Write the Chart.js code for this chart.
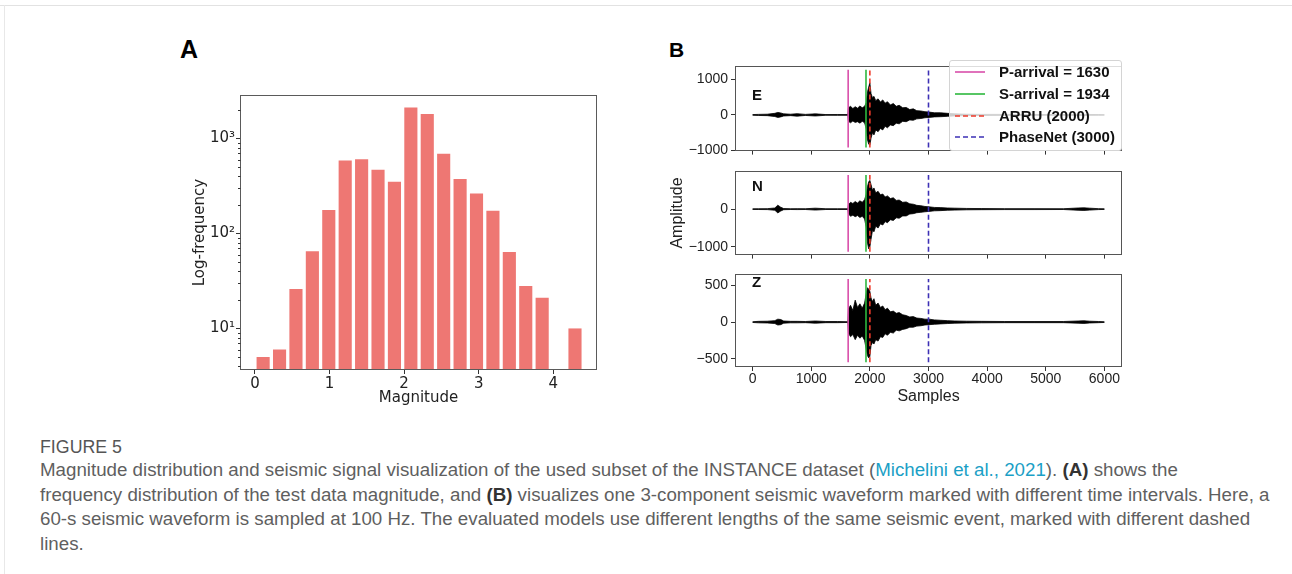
<!DOCTYPE html>
<html><head><meta charset="utf-8">
<script src="https://cdn.jsdelivr.net/npm/chart.js@4/dist/chart.umd.min.js"></script>
<style>
body{margin:0;background:#fff;}
#page{position:relative;width:1292px;height:574px;overflow:hidden;background:#fff;font-family:'Liberation Sans',Arial,sans-serif;}
.abs{position:absolute;}
canvas{display:block;}
.lg{position:absolute;left:999px;height:18px;line-height:18px;font:bold 15px 'Liberation Sans',Arial,sans-serif;color:#111;white-space:nowrap;}
.lgs{position:absolute;left:954px;width:32px;height:4px;}
#cap{position:absolute;left:40px;top:436px;color:#5f5f5f;font-family:'Liberation Sans',Arial,sans-serif;font-size:17px;}
#cap .ln{white-space:nowrap;line-height:24.7px;}
#cap .ln span.t{display:inline-block;}
#cap a{color:#1b9fc6;text-decoration:none;}
#cap b{color:#333;}
</style></head><body><div id="page">
<div class="abs" style="left:0;top:5px;width:1292px;height:1px;background:#e2e2e2"></div>
<div class="abs" style="left:4px;top:5px;width:1px;height:569px;background:#e8e8e8"></div>

<div class="abs" style="left:180px;top:35px;font:bold 25px 'Liberation Sans',Arial,sans-serif;color:#000">A</div>
<div class="abs" style="left:669px;top:38px;font:bold 21px 'Liberation Sans',Arial,sans-serif;color:#000">B</div>

<div class="abs" style="left:185px;top:85px;width:420px;height:325px"><canvas id="cA" width="420" height="325"></canvas></div>
<div class="abs" style="left:660px;top:55px;width:470px;height:107px"><canvas id="cE" width="470" height="107"></canvas></div>
<div class="abs" style="left:660px;top:160px;width:470px;height:106px"><canvas id="cN" width="470" height="106"></canvas></div>
<div class="abs" style="left:660px;top:263px;width:470px;height:147px"><canvas id="cZ" width="470" height="147"></canvas></div>

<div class="abs" style="left:752px;top:86px;font:bold 15px 'Liberation Sans',Arial,sans-serif;color:#111">E</div>
<div class="abs" style="left:752px;top:177px;font:bold 15px 'Liberation Sans',Arial,sans-serif;color:#111">N</div>
<div class="abs" style="left:752px;top:273px;font:bold 15px 'Liberation Sans',Arial,sans-serif;color:#111">Z</div>

<div class="abs" style="left:949px;top:60px;width:171px;height:89px;background:rgba(255,255,255,0.8);border:1px solid #d4d4d4;border-radius:3px;"></div>
<div id="legend"></div>

<div id="cap">
<div class="ln" style="line-height:22px;margin-bottom:0px"><span class="t" style="font-size:0.95em;color:#555">FIGURE 5</span></div>
<div class="ln"><span class="t">Magnitude distribution and seismic signal visualization of the used subset of the INSTANCE dataset (<a>Michelini et al., 2021</a>). <b>(A)</b> shows the</span></div>
<div class="ln"><span class="t" id="refLine">frequency distribution of the test data magnitude, and <b>(B)</b> visualizes one 3-component seismic waveform marked with different time intervals. Here, a</span></div>
<div class="ln"><span class="t">60-s seismic waveform is sampled at 100 Hz. The evaluated models use different lengths of the same seismic event, marked with different dashed</span></div>
<div class="ln"><span class="t">lines.</span></div>
</div>
</div>
<script>
// ---------- Panel A data ----------
const magBinCenters = [0.11,0.33,0.55,0.77,0.99,1.21,1.43,1.65,1.87,2.09,2.31,2.53,2.75,2.97,3.19,3.41,3.63,3.85,4.07,4.29];
const magCounts = [5,6,26,65,177,586,604,468,351,2120,1807,692,374,263,174,64,28,21,null,10];
const magTicks = [0,1,2,3,4];
const logMajorTicks = [10,100,1000];
const logTickLabels = ['10\u00B9','10\u00B2','10\u00B3'];

// ---------- Panel B data ----------
const sampleTicks = [0,1000,2000,3000,4000,5000,6000];
const waveSamples = [0,100,250,380,430,480,530,650,760,900,
  1070,1250,1450,1625,1635,1670,1710,1750,1790,1830,
  1870,1910,1940,1960,1980,2000,2020,2045,2070,2100,
  2140,2180,2220,2260,2300,2350,2400,2450,2500,2560,
  2620,2680,2740,2800,2870,2940,3010,3100,3200,3320,
  3450,3650,3900,4300,4800,5300,5550,5650,5750,5900,
  6000];
const eUpper = [10,15,20,45,70,55,30,20,35,15,
  30,10,12,10,200,240,180,230,190,250,
  200,240,350,650,780,900,600,480,520,400,
  450,360,420,330,370,280,320,240,270,200,
  210,150,170,120,110,90,80,60,60,45,
  30,20,15,15,12,12,15,15,12,10,
  8];
const eLower = [-10,-15,-20,-45,-70,-55,-30,-20,-35,-15,
  -30,-10,-12,-10,-180,-220,-170,-210,-190,-230,
  -180,-220,-400,-700,-820,-850,-650,-500,-560,-420,
  -470,-380,-420,-320,-360,-280,-300,-230,-250,-180,
  -190,-140,-150,-110,-100,-80,-70,-55,-50,-40,
  -28,-18,-15,-12,-12,-10,-15,-15,-12,-10,
  -8];
const nUpper = [8,10,12,30,105,50,15,10,12,10,
  25,10,10,8,120,180,150,200,160,220,
  180,250,400,600,720,760,650,500,560,430,
  470,380,400,320,350,280,300,230,240,180,
  190,140,130,100,90,70,60,45,40,30,
  25,18,15,12,12,10,30,35,25,12,
  8];
const nLower = [-8,-10,-12,-30,-100,-50,-15,-10,-12,-10,
  -25,-10,-10,-8,-120,-190,-160,-200,-170,-220,
  -190,-260,-500,-900,-1050,-1000,-800,-560,-600,-450,
  -500,-390,-420,-330,-360,-280,-300,-230,-240,-180,
  -180,-130,-120,-95,-85,-70,-60,-45,-40,-30,
  -25,-18,-15,-12,-12,-10,-30,-35,-25,-12,
  -8];
const zUpper = [5,10,12,20,40,35,15,10,10,8,
  15,8,8,5,180,230,160,300,200,250,
  190,260,400,470,450,420,330,280,320,230,
  260,200,220,170,190,140,150,120,130,100,
  90,70,75,55,50,40,40,30,25,20,
  15,12,10,8,8,8,15,18,12,8,
  5];
const zLower = [-5,-10,-12,-20,-40,-35,-15,-10,-10,-8,
  -15,-8,-8,-5,-150,-200,-170,-240,-180,-220,
  -190,-250,-380,-460,-490,-470,-320,-280,-300,-240,
  -260,-200,-210,-160,-180,-140,-150,-110,-120,-100,
  -90,-70,-70,-55,-50,-40,-35,-30,-25,-20,
  -15,-12,-10,-8,-8,-8,-15,-18,-12,-8,
  -5];
const ampTicksE = [-1000,0,1000];
const ampTicksN = [-1000,0];
const ampTicksZ = [-500,0,500];
const pickNames = ['P-arrival = 1630','S-arrival = 1934','ARRU (2000)','PhaseNet (3000)'];
const pickSamples = [1630,1934,2000,3000];
const pickSpanE = [-910,1265];
const pickSpanN = [-1125,900];
const pickSpanZ = [-550,590];

// ---------- styles ----------
const pickColors = ['#D94FAA','#2DB83D','#EE3A2A','#3D30B5'];
const pickDash = [[],[],[5,3],[5,3]];

const framePlugin = {
  id:'frame',
  afterDatasetsDraw(chart, args, opts){
    const {ctx, chartArea:a} = chart;
    ctx.save();
    ctx.strokeStyle = opts.color || '#555';
    ctx.lineWidth = 1;
    const l = Math.round(a.left)+0.5, t = Math.round(a.top)+0.5;
    const r = Math.round(a.right)-0.5, b = Math.round(a.bottom)-0.5;
    ctx.strokeRect(l, t, r-l, b-t);
    if (opts.minor){
      const y = chart.scales.y;
      ctx.strokeStyle = '#333';
      const minors = [];
      for (let d=1; d<=1000; d*=10) for (let m=2; m<=9; m++) minors.push(m*d);
      minors.forEach(v=>{
        if (v < y.min || v > y.max) return;
        const py = Math.round(y.getPixelForValue(v))+0.5;
        ctx.beginPath(); ctx.moveTo(l, py); ctx.lineTo(l-2.5, py); ctx.stroke();
      });
    }
    ctx.restore();
  }
};

// ---------- Panel A ----------
new Chart(document.getElementById('cA'), {
  type:'bar',
  data:{datasets:[{
    data: magBinCenters.map((x,i)=>({x:x, y:magCounts[i]})),
    backgroundColor:'#EE7773', borderWidth:0,
    barPercentage:0.8, categoryPercentage:1.0
  }]},
  options:{
    responsive:false, animation:false, events:[],
    layout:{padding:{top:7,right:8,left:0,bottom:0}},
    plugins:{legend:{display:false}, tooltip:{enabled:false}, frame:{color:'#5a5a5a', minor:true}},
    scales:{
      x:{type:'linear', min:-0.2, max:4.585, offset:false,
        afterBuildTicks:s=>{s.ticks = magTicks.map(v=>({value:v}));},
        afterFit:s=>{s.height = 40;},
        grid:{display:true, offset:false, drawOnChartArea:false, drawTicks:true, tickLength:4, color:'#333'},
        border:{display:false},
        ticks:{font:{family:'DejaVu Sans', size:15}, color:'#222', padding:1, maxRotation:0, autoSkip:false, callback:v=>String(v)},
        title:{display:true, text:'Magnitude', font:{family:'DejaVu Sans', size:15}, color:'#222', padding:{top:0,bottom:3}}
      },
      y:{type:'logarithmic', min:3.65, max:2873,
        afterBuildTicks:s=>{s.ticks = logMajorTicks.map(v=>({value:v}));},
        afterFit:s=>{s.width = 55;},
        grid:{display:true, drawOnChartArea:false, drawTicks:true, tickLength:4, color:'#333'},
        border:{display:false},
        ticks:{font:{family:'DejaVu Sans', size:15}, color:'#222', padding:1, autoSkip:false,
          callback:v=>{const k = logMajorTicks.indexOf(v); return k>=0 ? logTickLabels[k] : '';}},
        title:{display:true, text:'Log-frequency', font:{family:'DejaVu Sans', size:15}, color:'#222', padding:{top:6,bottom:0}}
      }
    }
  },
  plugins:[framePlugin]
});

// ---------- Panel B ----------
function waveChart(id, upper, lower, yMin, yMax, yTicks, span, opts){
  const markers = pickSamples.map((p,k)=>({
    data:[{x:p,y:span[0]},{x:p,y:span[1]}],
    borderColor:pickColors[k], borderWidth:1.6, borderDash:pickDash[k],
    pointRadius:0, fill:false, order:0, tension:0
  }));
  const wave = [
    {data:waveSamples.map((s,i)=>({x:s,y:upper[i]})), borderColor:'#000', borderWidth:0.8,
     backgroundColor:'#000', fill:'+1', pointRadius:0, order:1, tension:0},
    {data:waveSamples.map((s,i)=>({x:s,y:lower[i]})), borderColor:'#000', borderWidth:0.8,
     fill:false, pointRadius:0, order:1, tension:0}
  ];
  return new Chart(document.getElementById(id), {
    type:'line',
    data:{datasets: markers.concat(wave)},
    options:{
      responsive:false, animation:false, events:[],
      layout:{padding:{top:4,right:8,left:0,bottom:0}},
      plugins:{legend:{display:false}, tooltip:{enabled:false}, frame:{color:'#555'}},
      scales:{
        x:{type:'linear', min:-300, max:6300,
          afterBuildTicks:s=>{s.ticks = sampleTicks.map(v=>({value:v}));},
          afterFit:s=>{s.height = opts.xh;},
          grid:{display:true, drawOnChartArea:false, drawTicks:true, tickLength:4, color:'#333'},
          border:{display:false},
          ticks:{display:opts.xlabels, font:{family:'Liberation Sans', size:14}, color:'#222', padding:0, maxRotation:0, autoSkip:false, callback:v=>String(v)},
          title:{display:!!opts.xtitle, text:opts.xtitle||'', font:{family:'Liberation Sans', size:16}, color:'#222', padding:{top:0,bottom:4}}
        },
        y:{type:'linear', min:yMin, max:yMax,
          afterBuildTicks:s=>{s.ticks = yTicks.map(v=>({value:v}));},
          afterFit:s=>{s.width = 75;},
          grid:{display:true, drawOnChartArea:false, drawTicks:true, tickLength:4, color:'#333'},
          border:{display:false},
          ticks:{font:{family:'Liberation Sans', size:14}, color:'#222', padding:3, autoSkip:false,
            callback:v=> v<0 ? '\u2212'+Math.abs(v) : String(v)},
          title:{display:!!opts.ytitle, text:opts.ytitle||'', font:{family:'Liberation Sans', size:16}, color:'#222', padding:{top:8,bottom:0}}
        }
      }
    },
    plugins:[framePlugin]
  });
}
waveChart('cE', eUpper, eLower, -1000, 1360, ampTicksE, pickSpanE, {xh:4, xlabels:false});
waveChart('cN', nUpper, nLower, -1203, 998, ampTicksN, pickSpanN, {xh:4, xlabels:false, ytitle:'Amplitude'});
waveChart('cZ', zUpper, zLower, -614, 652, ampTicksZ, pickSpanZ, {xh:43, xlabels:true, xtitle:'Samples'});

// ---------- legend (HTML overlay) ----------
(function(){
  const rowsY = [72.3, 93.8, 115.5, 137.3];
  const host = document.getElementById('legend');
  pickNames.forEach((name,k)=>{
    const svgNS = 'http://www.w3.org/2000/svg';
    const svg = document.createElementNS(svgNS,'svg');
    svg.setAttribute('class','lgs'); svg.setAttribute('width','32'); svg.setAttribute('height','4');
    svg.style.top = (rowsY[k]-2)+'px';
    const ln = document.createElementNS(svgNS,'line');
    ln.setAttribute('x1','1'); ln.setAttribute('x2','31'); ln.setAttribute('y1','2'); ln.setAttribute('y2','2');
    ln.setAttribute('stroke', pickColors[k]); ln.setAttribute('stroke-width','1.6');
    if (pickDash[k].length) ln.setAttribute('stroke-dasharray', pickDash[k].join(' '));
    svg.appendChild(ln);
    host.appendChild(svg);
    const t = document.createElement('div');
    t.className = 'lg'; t.textContent = name; t.style.top = (rowsY[k]-9)+'px';
    host.appendChild(t);
  });
})();

// ---------- caption sizing ----------
(function(){
  const ref = document.getElementById('refLine');
  const w = ref.getBoundingClientRect().width;
  const target = 1230;
  const cap = document.getElementById('cap');
  cap.style.fontSize = (17 * target / w).toFixed(2) + 'px';
})();
</script>
</body></html>
